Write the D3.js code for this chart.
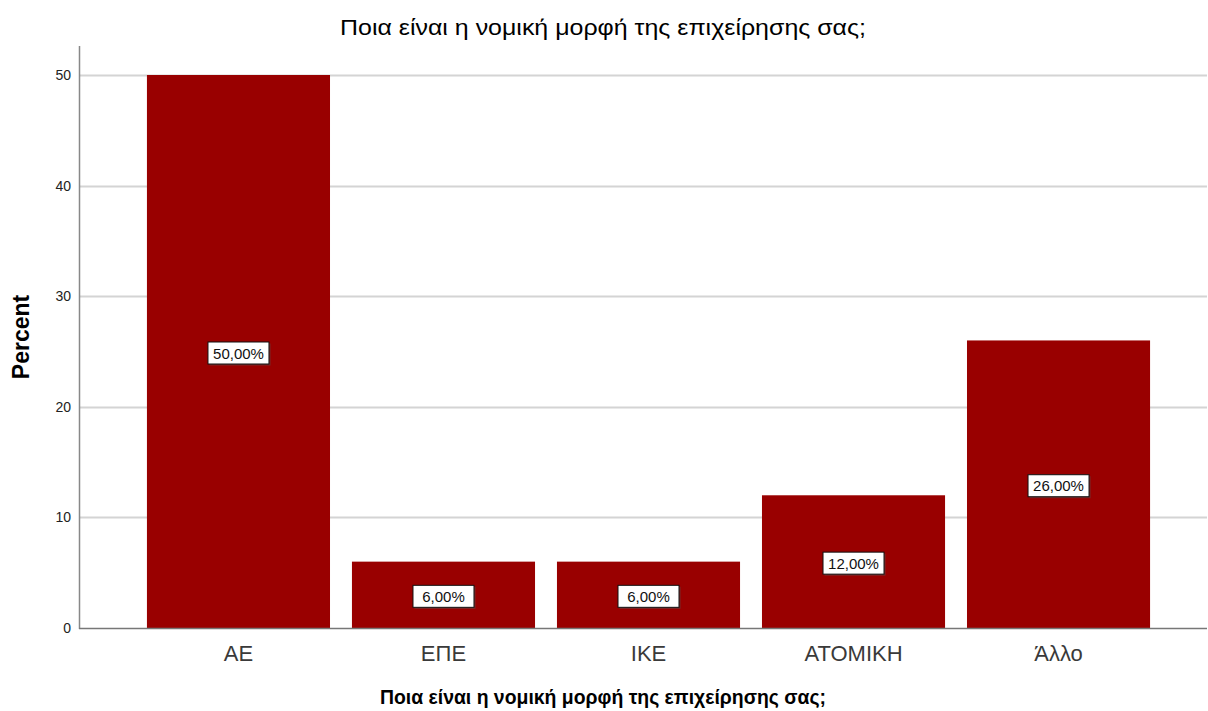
<!DOCTYPE html>
<html>
<head>
<meta charset="utf-8">
<script src="https://cdn.jsdelivr.net/npm/d3@7"></script>
<style>
  html, body { margin: 0; padding: 0; background: #fff; }
  svg { display: block; font-family: "Liberation Sans", Arial, sans-serif; }
</style>
</head>
<body>
<svg id="chart" width="1208" height="711"></svg>
<script>
// Legal form of the business – share of respondents (%)
const categories = ["ΑΕ", "ΕΠΕ", "ΙΚΕ", "ΑΤΟΜΙΚΗ", "Άλλο"];
const percents = [50, 6, 6, 12, 26];
const yTicks = [0, 10, 20, 30, 40, 50];
const titleText = "Ποια είναι η νομική μορφή της επιχείρησης σας;";
const yTitle = "Percent";

const svg = d3.select("#chart");
const plot = { left: 79, right: 1207, top: 46, bottom: 628 };

const x = d3.scaleBand()
  .domain(categories)
  .range([125, 1172])
  .paddingInner(0.107)
  .paddingOuter(0.107);

const y = d3.scaleLinear()
  .domain([0, 50])
  .range([plot.bottom, 75]);

// horizontal grid lines
svg.append("g")
  .selectAll("line")
  .data(yTicks.filter(d => d > 0))
  .join("line")
  .attr("x1", plot.left)
  .attr("x2", plot.right)
  .attr("y1", d => Math.round(y(d)) + 0.5)
  .attr("y2", d => Math.round(y(d)) + 0.5)
  .attr("stroke", "#d4d4d4")
  .attr("stroke-width", 2);

// bars
svg.append("g")
  .selectAll("rect")
  .data(categories)
  .join("rect")
  .attr("x", d => x(d))
  .attr("width", x.bandwidth())
  .attr("y", (d, i) => y(percents[i]))
  .attr("height", (d, i) => y(0) - y(percents[i]))
  .attr("fill", "#990000");

// y axis
const yAxis = d3.axisLeft(y).tickValues(yTicks).tickSize(0).tickPadding(8);
const gy = svg.append("g")
  .attr("transform", `translate(${plot.left},0)`)
  .call(yAxis);
gy.select(".domain").remove();
gy.selectAll("text")
  .attr("font-size", 14)
  .attr("fill", "#222")
  .attr("font-family", "Liberation Sans, Arial, sans-serif");
svg.append("line")
  .attr("x1", plot.left + 0.5).attr("x2", plot.left + 0.5)
  .attr("y1", plot.top).attr("y2", plot.bottom + 1)
  .attr("stroke", "#888").attr("stroke-width", 1.5);

// x axis
const xAxis = d3.axisBottom(x).tickSize(0).tickPadding(17);
const gx = svg.append("g")
  .attr("transform", `translate(0,${plot.bottom})`)
  .call(xAxis);
gx.select(".domain").remove();
gx.selectAll("text")
  .attr("font-size", 22)
  .attr("fill", "#3a3a3a")
  .attr("font-family", "Liberation Sans, Arial, sans-serif");
svg.append("line")
  .attr("x1", plot.left).attr("x2", plot.right)
  .attr("y1", plot.bottom + 0.5).attr("y2", plot.bottom + 0.5)
  .attr("stroke", "#777").attr("stroke-width", 1.5);

// value labels in boxes at the middle of each bar
const lbl = svg.append("g")
  .selectAll("g")
  .data(categories)
  .join("g")
  .attr("transform", (d, i) => `translate(${x(d) + x.bandwidth() / 2},${y(percents[i] / 2) + 2})`);
lbl.append("rect")
  .attr("x", -29).attr("y", -10)
  .attr("width", 61).attr("height", 22)
  .attr("fill", "#555").attr("opacity", 0.5);
lbl.append("rect")
  .attr("x", -30.5).attr("y", -11.5)
  .attr("width", 61).attr("height", 22)
  .attr("fill", "#fff").attr("stroke", "#111").attr("stroke-width", 1);
lbl.append("text")
  .attr("text-anchor", "middle")
  .attr("dy", "0.35em")
  .attr("font-size", 15)
  .attr("fill", "#111")
  .text((d, i) => d3.format(".2f")(percents[i]).replace(".", ",") + "%");

// titles
svg.append("text")
  .attr("x", 603).attr("y", 35)
  .attr("text-anchor", "middle")
  .attr("font-size", 22)
  .attr("fill", "#000")
  .attr("textLength", 526)
  .attr("lengthAdjust", "spacingAndGlyphs")
  .text(titleText);

svg.append("text")
  .attr("x", 603).attr("y", 704)
  .attr("text-anchor", "middle")
  .attr("font-size", 21)
  .attr("font-weight", "bold")
  .attr("fill", "#000")
  .attr("textLength", 446)
  .attr("lengthAdjust", "spacingAndGlyphs")
  .text(titleText);

svg.append("text")
  .attr("transform", "translate(29,337) rotate(-90)")
  .attr("text-anchor", "middle")
  .attr("font-size", 23)
  .attr("font-weight", "bold")
  .attr("fill", "#000")
  .text(yTitle);
</script>
</body>
</html>
